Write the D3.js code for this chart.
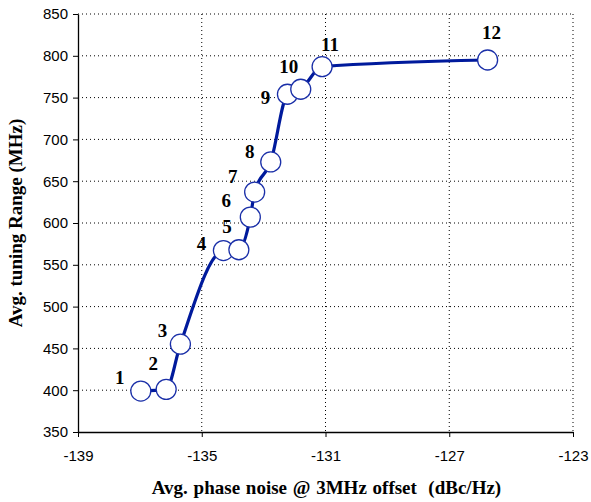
<!DOCTYPE html>
<html>
<head>
<meta charset="utf-8">
<script src="https://cdn.jsdelivr.net/npm/d3@7"></script>
<style>
  body { margin: 0; background: #fff; }
  .tick text { font-family: "Liberation Sans", Arial, sans-serif; font-size: 15px; fill: #000; }
  .title { font-family: "Liberation Serif", "Times New Roman", serif; font-weight: bold; font-size: 19px; }
  .lbl { font-family: "Liberation Serif", "Times New Roman", serif; font-weight: bold; font-size: 19px; }
</style>
</head>
<body>
<div class="graph"></div>
<script>
// data
var labels = ["1", "2", "3", "4", "5", "6", "7", "8", "9", "10", "11", "12"];
var phaseNoise = [-136.97, -136.15, -135.69, -134.30, -133.80, -133.43, -133.29, -132.77, -132.23, -131.80, -131.11, -125.76];
var tuningRange = [399, 401, 455, 567, 568, 607, 637, 673, 754, 760, 787, 795];
var xTicks = [-139, -135, -131, -127, -123];
var yTicks = [350, 400, 450, 500, 550, 600, 650, 700, 750, 800, 850];

// label offsets from point centre (layout only)
var labelOffset = [[-21, -7], [-13, -19], [-18, -7], [-22, -1], [-12, -17], [-24, -10], [-22, -9], [-21, -4], [-22, 10], [-12, -16], [8, -16], [4, -21]];

var data = labels.map(function (l, i) {
    return { label: l, x: phaseNoise[i], y: tuningRange[i] };
});

var margin = { top: 14, right: 18, bottom: 70, left: 78 },
    width = 591 - margin.left - margin.right,
    height = 502 - margin.top - margin.bottom;

var svg = d3.select(".graph").append("svg")
    .attr("width", 591)
    .attr("height", 502)
    .append("g")
    .attr("transform", `translate(${margin.left},${margin.top})`);

var x = d3.scaleLinear().domain([-139, -123]).range([0, width]);
var y = d3.scaleLinear().domain([350, 850]).range([height, 0]);

// grid
svg.append("g").selectAll("line")
    .data(yTicks.slice(1))
    .join("line")
    .attr("x1", 0).attr("x2", width)
    .attr("y1", d => y(d)).attr("y2", d => y(d))
    .attr("stroke", "#000").attr("stroke-width", 1)
    .attr("stroke-dasharray", "1,3");
svg.append("g").selectAll("line")
    .data(xTicks.slice(1))
    .join("line")
    .attr("x1", d => x(d)).attr("x2", d => x(d))
    .attr("y1", 0).attr("y2", height)
    .attr("stroke", "#000").attr("stroke-width", 1)
    .attr("stroke-dasharray", "1,3");

// axes
svg.append("g")
    .attr("transform", `translate(0,${height})`)
    .call(d3.axisBottom(x).tickValues(xTicks).tickFormat(d => String(d)).tickSize(5).tickSizeOuter(0).tickPadding(13));
svg.append("g")
    .call(d3.axisLeft(y).tickValues(yTicks).tickFormat(d => String(d)).tickSize(5).tickSizeOuter(0).tickPadding(5));
svg.selectAll(".domain").attr("stroke", "#000").attr("stroke-width", 1.3);
svg.selectAll(".tick line").attr("stroke", "#000");

// line
var valueLine = d3.line()
    .x(d => x(d.x))
    .y(d => y(d.y))
    .curve(d3.curveMonotoneX);
svg.append("path")
    .datum(data)
    .attr("fill", "none")
    .attr("stroke", "#001a9c")
    .attr("stroke-width", 3.2)
    .attr("d", valueLine);

svg.selectAll("circle")
    .data(data)
    .join("circle")
    .attr("cx", d => x(d.x))
    .attr("cy", d => y(d.y))
    .attr("r", 10)
    .attr("fill", "#fff")
    .attr("stroke", "#1a2fa8")
    .attr("stroke-width", 1.3);

svg.selectAll(".lbl")
    .data(data)
    .join("text")
    .attr("class", "lbl")
    .attr("x", (d, i) => x(d.x) + labelOffset[i][0])
    .attr("y", (d, i) => y(d.y) + labelOffset[i][1])
    .attr("text-anchor", "middle")
    .text(d => d.label);

// titles
svg.append("text")
    .attr("class", "title")
    .attr("x", width / 2 + 1)
    .attr("y", height + 62)
    .attr("text-anchor", "middle")
    .style("white-space", "pre")
    .style("word-spacing", "1px")
    .text("Avg. phase noise @ 3MHz offset  (dBc/Hz)");
svg.append("text")
    .attr("class", "title")
    .attr("transform", `translate(-56,${height / 2}) rotate(-90)`)
    .attr("text-anchor", "middle")
    .text("Avg. tuning Range (MHz)");
</script>
</body>
</html>
